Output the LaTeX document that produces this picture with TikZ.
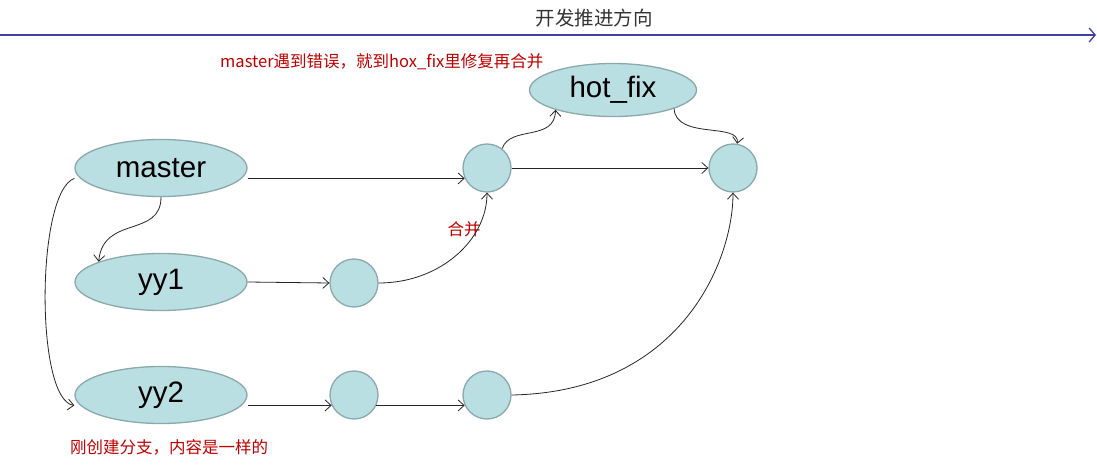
\documentclass[tikz,border=0pt]{standalone}
\usepackage{fontspec}
\setmainfont{Liberation Sans}
\newfontfamily\cjk{Noto Sans CJK SC}
\usetikzlibrary{shapes.geometric,arrows.meta}
\definecolor{nodefill}{RGB}{185,223,226}
\definecolor{nodeedge}{RGB}{139,168,172}
\definecolor{axisblue}{RGB}{64,64,165}
\definecolor{redtext}{RGB}{192,0,0}
\begin{document}
\begin{tikzpicture}[x=1pt,y=-1pt,
  branch/.style={ellipse,draw=nodeedge,fill=nodefill,line width=1.3pt,inner sep=0pt,
    minimum width=172pt,minimum height=57pt,font=\fontsize{29.5}{31}\selectfont},
  commit/.style={circle,draw=nodeedge,fill=nodefill,line width=1.3pt,inner sep=0pt,minimum size=48pt},
  conn/.style={draw=black!85,line width=0.8pt,-{Straight Barb[length=6pt,width=11pt]}},
  note/.style={text=redtext,font=\cjk\fontsize{16.5}{18}\selectfont,inner sep=0pt}]
\useasboundingbox (0,0) rectangle (1097,465);
% direction axis
\coordinate (axs) at (0,35);
\coordinate (axe) at (1096,35);
\draw[axisblue,line width=1.3pt,-{Straight Barb[length=6pt,width=14pt]}] (axs) -- (axe);
\node[font=\cjk\fontsize{19.5}{21}\selectfont,text=black!80,inner sep=0pt] (title) at (594,18) {开发推进方向};
% notes
\node[note,anchor=west] (note1) at (220,62) {master遇到错误，就到hox\_fix里修复再合并};
\node[note,anchor=west] (note2) at (70,447) {刚创建分支，内容是一样的};
\node[note] (note3) at (464,229) {合并};
% branches
\node[branch] (master) at (161,168) {master};
\node[branch] (yy1) at (161,282) {yy1};
\node[branch] (yy2) at (161,395) {yy2};
\node[branch,minimum width=167pt,minimum height=53pt] (hotfix) at (613,90) {hot\_fix};
% commits
\node[commit] (c1) at (487,168) {};
\node[commit] (c2) at (733,168) {};
\node[commit] (y1c) at (354,283) {};
\node[commit] (y2a) at (354,395) {};
\node[commit] (y2b) at (487,395) {};
% connectors
\draw[conn] (master.east |- c1.205) -- (c1.205);
\draw[conn] (c1.east) -- (c2.west);
\draw[conn] (c1.52) .. controls (510,125) and (555,142) .. (hotfix.199);
\draw[conn] (hotfix.343) .. controls (676,140) and (740,122) .. (c2.80);
\draw[conn] (master.south) .. controls (161,238) and (103,215) .. (yy1.162);
\draw[conn] (master.west |- c1.205) .. controls (36,192) and (35,400) .. (yy2.west |- y2a.205);
\draw[conn] (yy1.east) -- (y1c.west);
\draw[conn] (yy2.east |- y2a.205) -- (y2a.205);
\draw[conn] (y2a.335) -- (y2b.205);
\draw[conn] (y1c.east) .. controls (440,283) and (487,240) .. (c1.south);
\draw[conn] (y2b.east) .. controls (680,392) and (733,262) .. (c2.south);
\end{tikzpicture}
\end{document}
